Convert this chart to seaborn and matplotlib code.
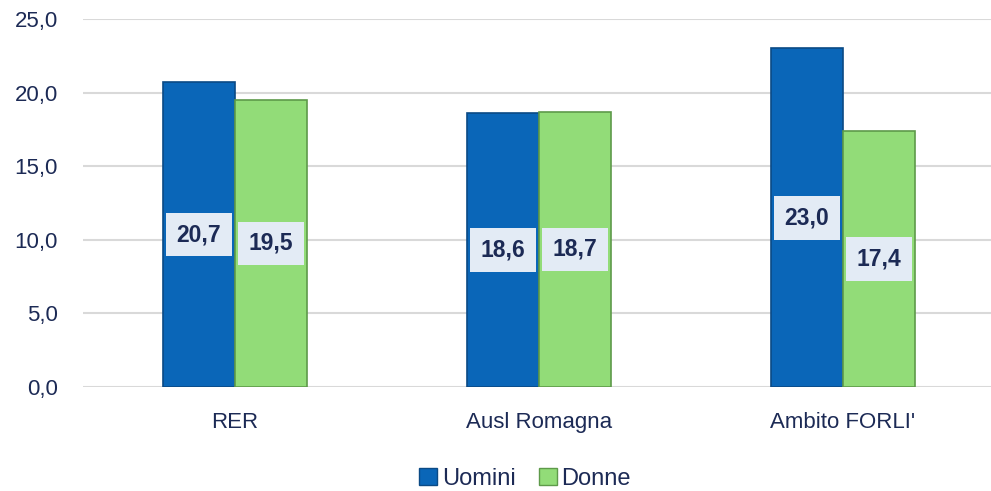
import matplotlib
matplotlib.use("Agg")
import matplotlib.pyplot as plt
import seaborn as sns
import pandas as pd
from matplotlib.patches import Patch

categories = ["RER", "Ausl Romagna", "Ambito FORLI'"]
uomini = [20.7, 18.6, 23.0]
donne = [19.5, 18.7, 17.4]
series = ["Uomini", "Donne"]
yticks = [0, 5, 10, 15, 20, 25]

df = pd.DataFrame({
    "cat": categories * 2,
    "val": uomini + donne,
    "serie": [series[0]] * 3 + [series[1]] * 3,
})

sns.set_style("white")
plt.rcParams['font.family'] = ['Liberation Sans', 'DejaVu Sans']

colors = {"Uomini": "#0a66b8", "Donne": "#92dc78"}
edges = {"Uomini": "#0b4a85", "Donne": "#5e9a4a"}
navy = "#1c2a55"

fig = plt.figure(figsize=(9.91, 4.91), dpi=100)
ax = fig.add_axes([0.0838, 0.2118, 0.9162, 0.7495])

sns.barplot(data=df, x="cat", y="val", hue="serie", palette=colors,
            width=0.474, ax=ax, legend=False, saturation=1)

for cont, s in zip(ax.containers, series):
    for p in cont:
        p.set_edgecolor(edges[s])
        p.set_linewidth(1.2)
    for p in cont:
        h = p.get_height()
        ax.text(p.get_x() + p.get_width() / 2, h / 2,
                f"{h:.1f}".replace(".", ","), ha="center", va="center",
                fontsize=16.5, fontweight="bold", color=navy,
                bbox=dict(boxstyle="square,pad=0.45", fc="#e3ebf5", ec="none"))

ax.set_xlim(-0.5, 2.487)
ax.set_ylim(0, 25)
ax.set_yticks(yticks)
ax.set_yticklabels([f"{v:.1f}".replace(".", ",") for v in yticks])
ax.yaxis.grid(True, color="#d9d9d9", linewidth=1.5)
ax.set_axisbelow(True)
for s in ax.spines.values():
    s.set_visible(False)
ax.tick_params(axis="y", length=0, pad=18, labelsize=16, labelcolor=navy)
ax.tick_params(axis="x", length=0, pad=18, labelsize=16, labelcolor=navy)
ax.set_xlabel("")
ax.set_ylabel("")

handles = [Patch(facecolor=colors[s], edgecolor=edges[s], label=s) for s in series]
fig.legend(handles=handles, loc="center", bbox_to_anchor=(0.53, 0.025), ncol=2,
           frameon=False, fontsize=17, handlelength=0.75, handleheight=0.75,
           handletextpad=0.2, columnspacing=1.0, labelcolor=navy)

fig.savefig("out.png", dpi=100)
